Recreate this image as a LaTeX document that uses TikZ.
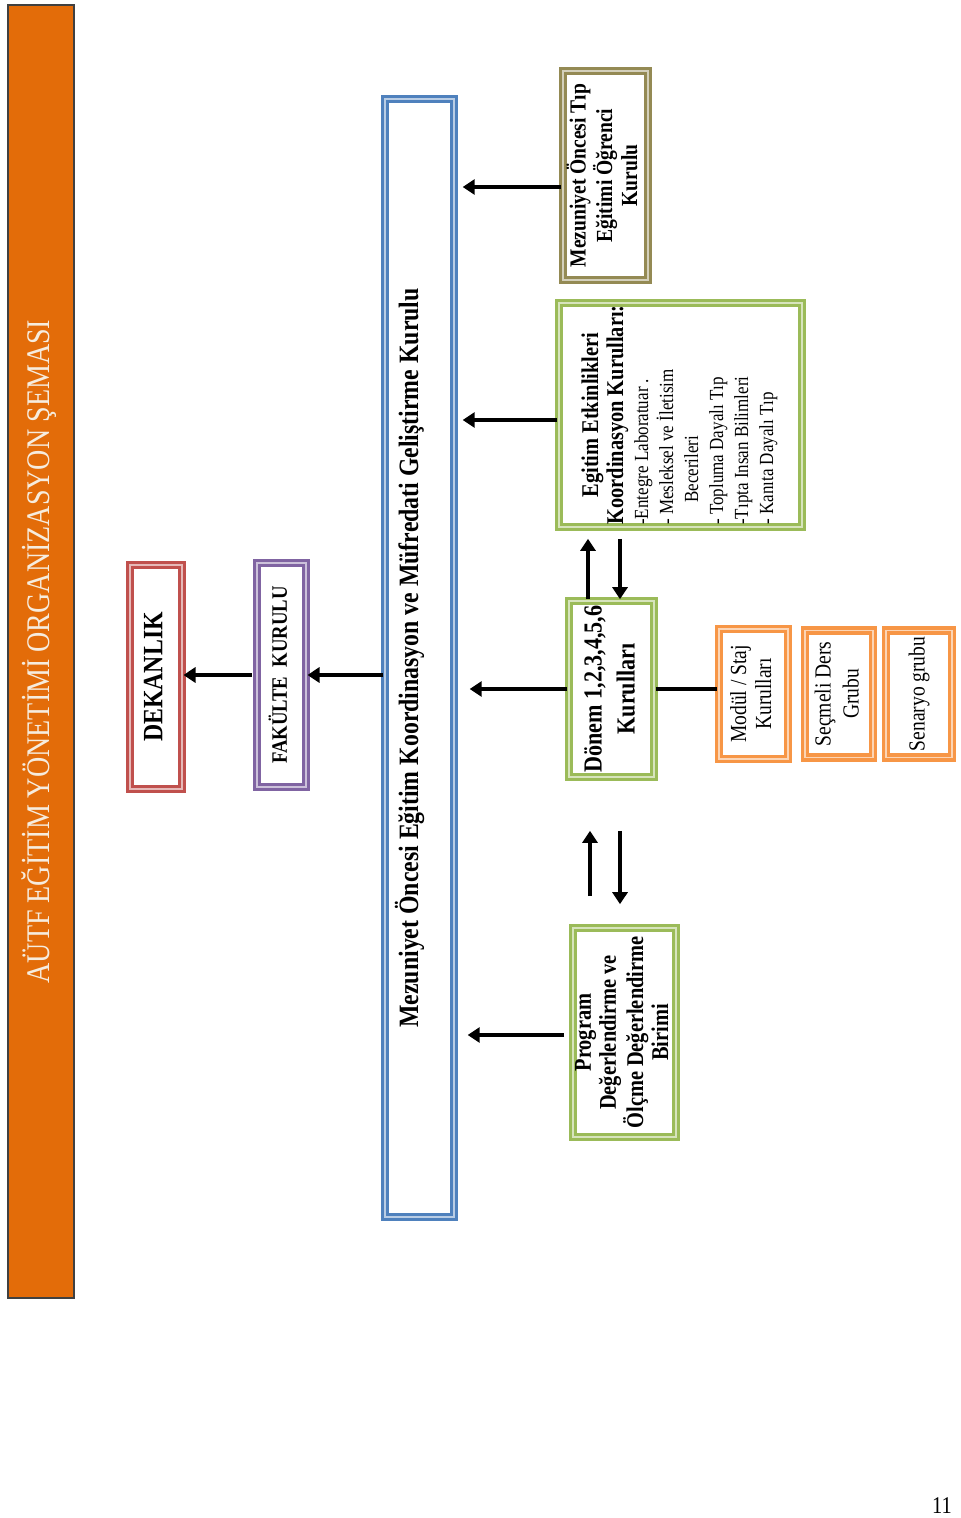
\documentclass[tikz,border=0pt]{standalone}
\usepackage{fontspec}
\setmainfont{Liberation Serif}[FakeStretch=0.85]
\usepackage{graphicx}
\usetikzlibrary{arrows.meta,positioning}
\definecolor{dekred}{HTML}{C0504D}
\definecolor{fakpurple}{HTML}{8064A2}
\definecolor{kurblue}{HTML}{4F81BD}
\definecolor{ogrolive}{HTML}{948A54}
\definecolor{grpgreen}{HTML}{9BBB59}
\definecolor{grporange}{HTML}{F79646}
\definecolor{titleorange}{HTML}{E36C09}
\definecolor{titletext}{RGB}{246,236,222}
\newcommand{\vt}[2][c]{\rotatebox{90}{\begin{tabular}{@{}#1@{}}#2\end{tabular}}}

\begin{document}
\begin{tikzpicture}[
  x=0.5pt, y=-0.5pt,
  box/.style={draw=#1, line width=1.5pt, double=#1!40!white, double distance=0.7pt, fill=white, inner sep=0pt},
  arr/.style={line width=2pt, -{Triangle[length=6pt,width=7.5pt]}},
  lnk/.style={line width=2pt},
  hd/.style={font=\fontsize{#1}{12.5}\selectfont\bfseries},
]
\useasboundingbox (0,0) rectangle (960,1518);

% ---------------- title ----------------
\node[draw=black!75, line width=0.6pt, fill=titleorange, minimum width=33pt, minimum height=646.5pt,
  inner sep=0pt, text=titletext, font=\fontsize{16.5}{18}\selectfont] (ttl) at (41,651.5)
  {\vt{AÜTF EĞİTİM YÖNETİMİ ORGANİZASYON ŞEMASI}};

% ---------------- left column ----------------
\node[box=dekred, minimum width=26pt, minimum height=112pt, font=\fontsize{14}{16}\selectfont\bfseries]
  (dek) at (156,677) {\vt{DEKANLIK}};
\node[box=fakpurple, minimum width=24.5pt, minimum height=112pt, font=\fontsize{11}{13}\selectfont\bfseries]
  (fak) at (281.5,675) {\vt{FAKÜLTE\ \ KURULU}};
\node[box=kurblue, line width=1.7pt, minimum width=34.5pt, minimum height=559pt, font=\fontsize{14}{16}\selectfont\bfseries]
  (kur) at (419.5,658) {\vt{Mezuniyet Öncesi Eğitim Koordinasyon ve Müfredati Geliştirme Kurulu\rule[-13pt]{0pt}{13pt}}};

% ---------------- right column ----------------
\node[box=ogrolive, line width=1.8pt, minimum width=42.5pt, minimum height=104.5pt, hd=11.5]
  (ogr) at (605.5,175.5) {\vt{Mezuniyet Öncesi Tıp\\Eğitimi Öğrenci\\Kurulu}};
\node[box=grpgreen, line width=1.8pt, minimum width=121.5pt, minimum height=112pt, font=\fontsize{10}{12.5}\selectfont]
  (etk) at (680.5,415) {\vt[l]{%
    \multicolumn{1}{@{}c@{}}{\fontsize{12}{12.5}\selectfont\bfseries Egitim Etkinlikleri}\\
    \multicolumn{1}{@{}c@{}}{\fontsize{12}{12.5}\selectfont\bfseries Koordinasyon Kurulları:}\\
    -Entegre Laboratuar .\\
    - Mesleksel ve İletisim\\
    \hspace*{11pt}Becerileri\\
    - Topluma Dayalı Tıp\\
    -Tıpta Insan Bilimleri\\
    - Kanıta Dayalı Tıp}};
\node[box=grpgreen, line width=1.8pt, minimum width=42.5pt, minimum height=88pt, font=\fontsize{13}{16.5}\selectfont\bfseries]
  (dnm) at (611.5,689) {\vt{Dönem 1,2,3,4,5,6\\Kurulları}};
\node[box=grpgreen, line width=1.8pt, minimum width=51.5pt, minimum height=104.5pt, hd=12]
  (prog) at (624.5,1032.5) {\vt{Program\\Değerlendirme ve\\Ölçme Değerlendirme\\Birimi}};

% ---------------- orange groups ----------------
\node[box=grporange, line width=1.7pt, minimum width=34.5pt, minimum height=65pt, font=\fontsize{11.5}{12.5}\selectfont]
  (mod) at (753.5,694) {\vt{Modül / Staj\\Kurulları}};
\node[box=grporange, line width=1.7pt, minimum width=34pt, minimum height=63.5pt, right=6.8pt of mod, font=\fontsize{11.5}{14}\selectfont]
  (sec) {\vt{Seçmeli Ders\\Grubu}};
\node[box=grporange, line width=1.7pt, minimum width=33pt, minimum height=63.5pt, right=4.8pt of sec, font=\fontsize{11.5}{14}\selectfont]
  (sen) {\vt{Senaryo grubu}};

% ---------------- connectors ----------------
\draw[arr, shorten <=2pt] (fak.west) -- (fak.west -| dek.east);
\draw[arr] (kur.west |- fak.east) -- (fak.east);

\coordinate (o1) at ([yshift=-5.75pt]ogr.west);
\coordinate (e1) at ([yshift=-2.5pt]etk.west);
\coordinate (p1) at ([yshift=-1.25pt]prog.west);
\draw[arr, shorten >=3.5pt] (o1) -- (o1 -| kur.east);
\draw[arr, shorten >=3.5pt] (e1) -- (e1 -| kur.east);
\draw[arr, shorten >=7pt] (dnm.west) -- (dnm.west -| kur.east);
\draw[arr, shorten <=3.5pt, shorten >=6pt] (p1) -- (p1 -| kur.east);
\draw[lnk] (dnm.east) -- (dnm.east -| mod.west);

\coordinate (u1) at ([xshift=-11.75pt]dnm.north);
\coordinate (d1) at ([xshift=4.25pt]dnm.north);
\draw[arr, shorten >=5pt] (u1) -- (u1 |- etk.south);
\draw[arr, shorten <=5pt] (d1 |- etk.south) -- (d1);

\coordinate (u2) at ([xshift=-17.25pt]prog.north);
\coordinate (d2) at ([xshift=-2.25pt]prog.north);
\draw[arr, shorten <=15pt, shorten >=26pt] (u2) -- (u2 |- dnm.south);
\draw[arr, shorten <=26pt, shorten >=11pt] (d2 |- dnm.south) -- (d2);

% ---------------- page number ----------------
\node[font=\fontsize{12}{14}\selectfont] (pg) at (942,1506) {11};
\end{tikzpicture}
\end{document}
